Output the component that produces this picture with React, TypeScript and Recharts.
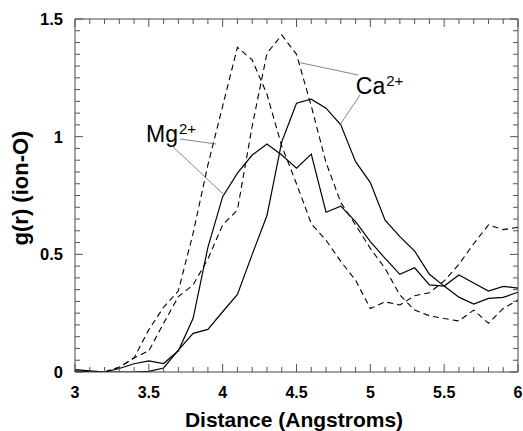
import { LineChart, Line, XAxis, YAxis, ReferenceLine, ReferenceDot } from 'recharts';

// distance in Angstroms, one sample every 0.1
const distance = [3.0, 3.1, 3.2, 3.3, 3.4, 3.5, 3.6, 3.7, 3.8, 3.9, 4.0, 4.1, 4.2, 4.3, 4.4, 4.5, 4.6, 4.7, 4.8, 4.9, 5.0, 5.1, 5.2, 5.3, 5.4, 5.5, 5.6, 5.7, 5.8, 5.9, 6.0];

const mgSolid = [0.01, 0.005, 0.0, 0.015, 0.035, 0.047, 0.036, 0.09, 0.228, 0.53, 0.745, 0.845, 0.922, 0.969, 0.922, 0.866, 0.926, 0.679, 0.705, 0.639, 0.554, 0.483, 0.415, 0.443, 0.37, 0.365, 0.412, 0.378, 0.344, 0.364, 0.356];
const caSolid = [0.005, 0.0, 0.0, 0.0, 0.0, 0.003, 0.017, 0.093, 0.164, 0.181, 0.256, 0.33, 0.5, 0.665, 0.978, 1.142, 1.159, 1.121, 1.05, 0.894, 0.805, 0.645, 0.575, 0.514, 0.415, 0.365, 0.318, 0.289, 0.313, 0.317, 0.339];
const mgDashed = [0.0, 0.0, 0.0, 0.02, 0.06, 0.18, 0.275, 0.345, 0.59, 0.88, 1.13, 1.38, 1.326, 1.18, 0.96, 0.8, 0.63, 0.56, 0.47, 0.39, 0.27, 0.298, 0.285, 0.324, 0.337, 0.387, 0.458, 0.545, 0.625, 0.605, 0.615];
const caDashed = [0.0, 0.005, 0.0, 0.02, 0.06, 0.09, 0.207, 0.32, 0.37, 0.48, 0.625, 0.689, 1.045, 1.354, 1.432, 1.35, 1.13, 0.89, 0.72, 0.625, 0.525, 0.44, 0.327, 0.263, 0.239, 0.227, 0.217, 0.263, 0.207, 0.27, 0.306];

const xTicks = [3.0, 3.1, 3.2, 3.3, 3.4, 3.5, 3.6, 3.7, 3.8, 3.9, 4.0, 4.1, 4.2, 4.3, 4.4, 4.5, 4.6, 4.7, 4.8, 4.9, 5.0, 5.1, 5.2, 5.3, 5.4, 5.5, 5.6, 5.7, 5.8, 5.9, 6.0];
const xLabels = [3, 3.5, 4, 4.5, 5, 5.5, 6];
const yTicks = [0, 0.05, 0.1, 0.15, 0.2, 0.25, 0.3, 0.35, 0.4, 0.45, 0.5, 0.55, 0.6, 0.65, 0.7, 0.75, 0.8, 0.85, 0.9, 0.95, 1, 1.05, 1.1, 1.15, 1.2, 1.25, 1.3, 1.35, 1.4, 1.45, 1.5];
const yLabels = [0, 0.5, 1, 1.5];

const data = distance.map((d, i) => ({
  d,
  mgSolid: mgSolid[i],
  caSolid: caSolid[i],
  mgDashed: mgDashed[i],
  caDashed: caDashed[i],
}));

const FONT = '"Liberation Sans", Arial, Helvetica, sans-serif';
const TICK = '#555';

const hasLabel = (list: number[], v: number) => list.some((l) => Math.abs(l - v) < 1e-6);

const BottomTick = (props: any) => {
  const { x, y, payload } = props;
  const major = hasLabel(xLabels, payload.value);
  return (
    <g>
      <line x1={x} x2={x} y1={y} y2={y - (major ? 8 : 5)} stroke={TICK} />
      {major && (
        <text x={x} y={y + 26} textAnchor="middle" fontFamily={FONT} fontWeight="bold" fontSize={16} fill="#000">
          {payload.value}
        </text>
      )}
    </g>
  );
};

const TopTick = (props: any) => {
  const { x, y, payload } = props;
  const major = hasLabel(xLabels, payload.value);
  return <line x1={x} x2={x} y1={y} y2={y + (major ? 8 : 5)} stroke={TICK} />;
};

const LeftTick = (props: any) => {
  const { x, y, payload } = props;
  const major = hasLabel(yLabels, payload.value);
  return (
    <g>
      <line x1={x} x2={x + (major ? 8 : 5)} y1={y} y2={y} stroke={TICK} />
      {major && (
        <text x={x - 12} y={y} dy="0.36em" textAnchor="end" fontFamily={FONT} fontWeight="bold" fontSize={16.5} fill="#000">
          {payload.value}
        </text>
      )}
    </g>
  );
};

const RightTick = (props: any) => {
  const { x, y, payload } = props;
  const major = hasLabel(yLabels, payload.value);
  return <line x1={x} x2={x - (major ? 8 : 5)} y1={y} y2={y} stroke={TICK} />;
};

const ionLabel = (base: string) => (props: any) => {
  const { viewBox } = props;
  return (
    <text x={viewBox.x} y={viewBox.y} fontFamily={FONT} fontSize={23} fill="#000">
      <tspan>{base}</tspan>
      <tspan dx={1} dy={-8} fontSize={15}>2+</tspan>
    </text>
  );
};

const axisIds = { xAxisId: 'bottom', yAxisId: 'left' };

export default function App() {
  return (
    <div style={{ position: 'absolute', left: 0, top: 0, width: 523, height: 431, background: '#fff' }}>
      <LineChart width={523} height={431} data={data} margin={{ top: 18, right: 4, bottom: 58, left: 74 }}>
        <XAxis xAxisId="bottom" dataKey="d" type="number" domain={[3, 6]} ticks={xTicks} interval={0}
          height={1} tickSize={0} tickMargin={0} tick={BottomTick} stroke="#444" allowDataOverflow />
        <XAxis xAxisId="top" orientation="top" dataKey="d" type="number" domain={[3, 6]} ticks={xTicks} interval={0}
          height={1} tickSize={0} tickMargin={0} tick={TopTick} stroke="#444" allowDataOverflow />
        <YAxis yAxisId="left" type="number" domain={[0, 1.5]} ticks={yTicks} interval={0}
          width={1} tickSize={0} tickMargin={0} tick={LeftTick} stroke="#444" allowDataOverflow />
        <YAxis yAxisId="right" orientation="right" type="number" domain={[0, 1.5]} ticks={yTicks} interval={0}
          width={1} tickSize={0} tickMargin={0} tick={RightTick} stroke="#444" allowDataOverflow />

        <Line {...axisIds} dataKey="mgDashed" type="linear" stroke="#000" strokeWidth={1.1} strokeDasharray="6 4" dot={false} isAnimationActive={false} />
        <Line {...axisIds} dataKey="caDashed" type="linear" stroke="#000" strokeWidth={1.1} strokeDasharray="6 4" dot={false} isAnimationActive={false} />
        <Line {...axisIds} dataKey="mgSolid" type="linear" stroke="#000" strokeWidth={1.2} dot={false} isAnimationActive={false} />
        <Line {...axisIds} dataKey="caSolid" type="linear" stroke="#000" strokeWidth={1.2} dot={false} isAnimationActive={false} />

        {/* leader lines from the ion labels to their curves */}
        <ReferenceLine {...axisIds} segment={[{ x: 3.711, y: 0.99 }, { x: 3.955, y: 0.969 }]} stroke="#666" strokeWidth={0.8} />
        <ReferenceLine {...axisIds} segment={[{ x: 3.655, y: 0.962 }, { x: 4.004, y: 0.756 }]} stroke="#666" strokeWidth={0.8} />
        <ReferenceLine {...axisIds} segment={[{ x: 4.918, y: 1.262 }, { x: 4.519, y: 1.315 }]} stroke="#666" strokeWidth={0.8} />
        <ReferenceLine {...axisIds} segment={[{ x: 4.93, y: 1.177 }, { x: 4.794, y: 1.05 }]} stroke="#666" strokeWidth={0.8} />

        <ReferenceDot {...axisIds} x={3.481} y={0.977} r={0} stroke="none" fill="none" label={{ content: ionLabel('Mg') }} />
        <ReferenceDot {...axisIds} x={4.902} y={1.181} r={0} stroke="none" fill="none" label={{ content: ionLabel('Ca') }} />
      </LineChart>
      <svg width={523} height={431} style={{ position: 'absolute', left: 0, top: 0, pointerEvents: 'none' }}>
        <text x={294} y={427} textAnchor="middle" fontFamily={FONT} fontWeight="bold" fontSize={21}>
          Distance (Angstroms)
        </text>
        <text x={28} y={188} textAnchor="middle" transform="rotate(-90 28 188)" fontFamily={FONT} fontWeight="bold" fontSize={22}>
          g(r) (ion-O)
        </text>
      </svg>
    </div>
  );
}
